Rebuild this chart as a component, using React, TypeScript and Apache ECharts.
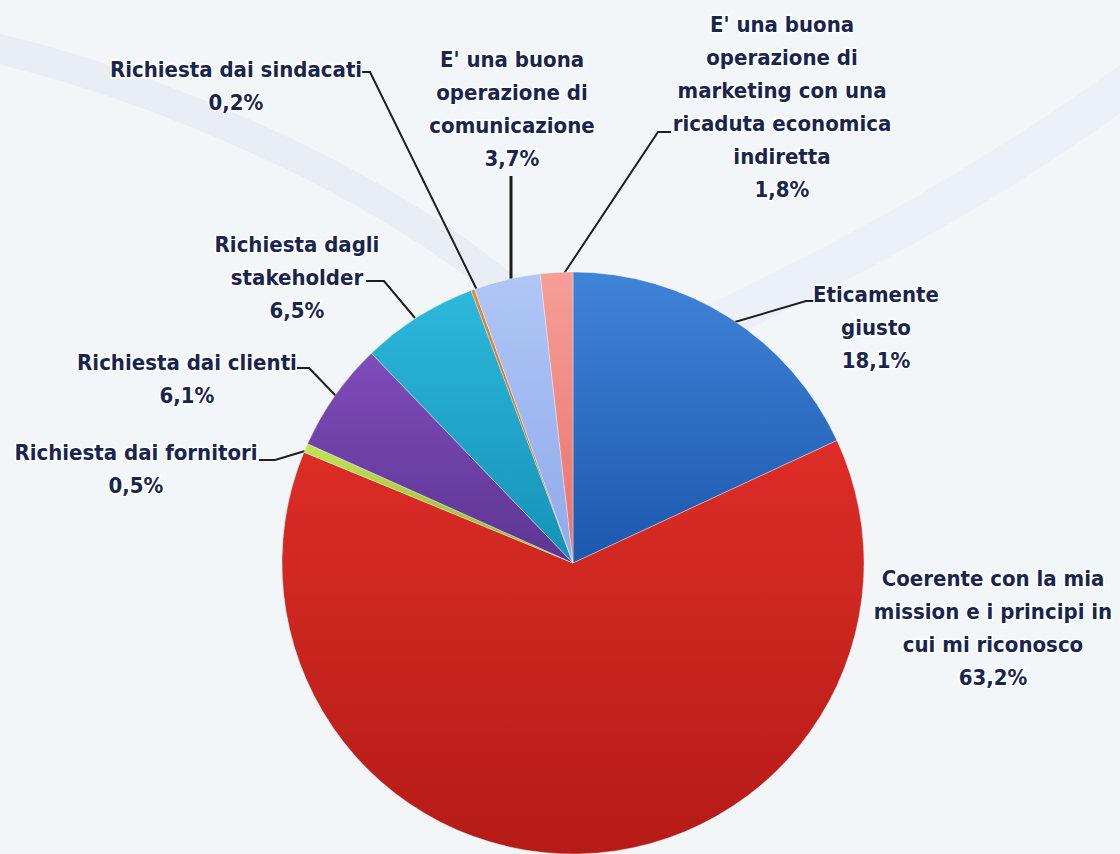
import React, { useEffect, useRef } from "react";
import * as echarts from "echarts";

const categories = [
  "Eticamente\ngiusto",
  "Coerente con la mia\nmission e i principi in\ncui mi riconosco",
  "Richiesta dai fornitori",
  "Richiesta dai clienti",
  "Richiesta dagli\nstakeholder",
  "Richiesta dai sindacati",
  "E' una buona\noperazione di\ncomunicazione",
  "E' una buona\noperazione di\nmarketing con una\nricaduta economica\nindiretta",
];
const values = [18.1, 63.2, 0.5, 6.1, 6.5, 0.2, 3.7, 1.8];

const sliceColors = [
  ["#3f84d9", "#1c58ad"],
  ["#dd2d26", "#b51b17"],
  ["#c4e35a", "#8db523"],
  ["#7f4cba", "#5d3592"],
  ["#2cb8dc", "#1592b6"],
  ["#e08a3a", "#b9621a"],
  ["#b0c6f5", "#8eaaeb"],
  ["#f59f98", "#e9716a"],
];

// label centres and leader-line points (layout only)
const labelPos: { x: number; y: number; line: number[][] | null; w: number }[] = [
  { x: 876, y: 327, line: [[735, 322], [806, 301], [814, 301]], w: 2 },
  { x: 993, y: 628, line: null, w: 0 },
  { x: 136, y: 469, line: [[305, 451], [275, 460], [259, 460]], w: 2 },
  { x: 187, y: 379, line: [[337, 397], [309, 368], [297, 368]], w: 2 },
  { x: 297, y: 277, line: [[415, 318], [384, 281], [366, 281]], w: 2 },
  { x: 236, y: 86, line: [[477, 290], [370, 72], [362, 72]], w: 2 },
  { x: 512, y: 109, line: [[511, 284], [511, 176], [511, 176]], w: 3 },
  { x: 782, y: 107, line: [[563, 275], [658, 132], [671, 132]], w: 2 },
];

export default function App() {
  const ref = useRef<HTMLDivElement>(null);
  useEffect(() => {
    document.body.style.margin = "0";
    if (!ref.current) return;
    const chart = echarts.init(ref.current, null, { renderer: "svg" });
    const data = categories.map((name, i) => ({
      name,
      value: values[i],
      itemStyle: {
        color: new echarts.graphic.LinearGradient(0, 0, 0, 1, [
          { offset: 0, color: sliceColors[i][0] },
          { offset: 1, color: sliceColors[i][1] },
        ]),
      },
      labelLine: {
        show: labelPos[i].line !== null,
        lineStyle: { color: "#1e1e1e", width: labelPos[i].w },
      },
    }));
    chart.setOption({
      animation: false,
      backgroundColor: "#f3f6f9",
      graphic: [
        {
          type: "bezierCurve",
          silent: true,
          z: -10,
          shape: { x1: -40, y1: 40, cpx1: 150, cpy1: 80, cpx2: 380, cpy2: 180, x2: 520, y2: 300 },
          style: { stroke: "rgba(214,224,238,0.35)", lineWidth: 30, fill: null },
        },
        {
          type: "bezierCurve",
          silent: true,
          z: -10,
          shape: { x1: 1160, y1: 60, cpx1: 1000, cpy1: 180, cpx2: 850, cpy2: 260, x2: 700, y2: 330 },
          style: { stroke: "rgba(228,234,243,0.45)", lineWidth: 40, fill: null },
        },
      ],
      series: [
        {
          type: "pie",
          center: [573, 563],
          radius: 291,
          startAngle: 90,
          clockwise: true,
          avoidLabelOverlap: false,
          itemStyle: { borderColor: "rgba(255,255,255,0.35)", borderWidth: 1 },
          label: {
            show: true,
            position: "outside",
            formatter: (p: any) => p.name + "\n" + p.value.toFixed(1).replace(".", ",") + "%",
            fontFamily: "'Liberation Sans Narrow', 'DejaVu Sans Condensed', Roboto, sans-serif",
            fontWeight: "bold",
            fontSize: 22,
            lineHeight: 33,
            color: "#19254f",
            textBorderColor: "#ffffff",
            textBorderWidth: 3,
            align: "center",
          },
          labelLine: { show: true },
          labelLayout: (params: any) => {
            const p = labelPos[params.dataIndex];
            const out: any = { x: p.x, y: p.y, align: "center", verticalAlign: "middle" };
            if (p.line) out.labelLinePoints = p.line;
            return out;
          },
          data,
        },
      ],
    });
    return () => chart.dispose();
  }, []);
  return <div ref={ref} style={{ width: 1120, height: 854 }} />;
}
